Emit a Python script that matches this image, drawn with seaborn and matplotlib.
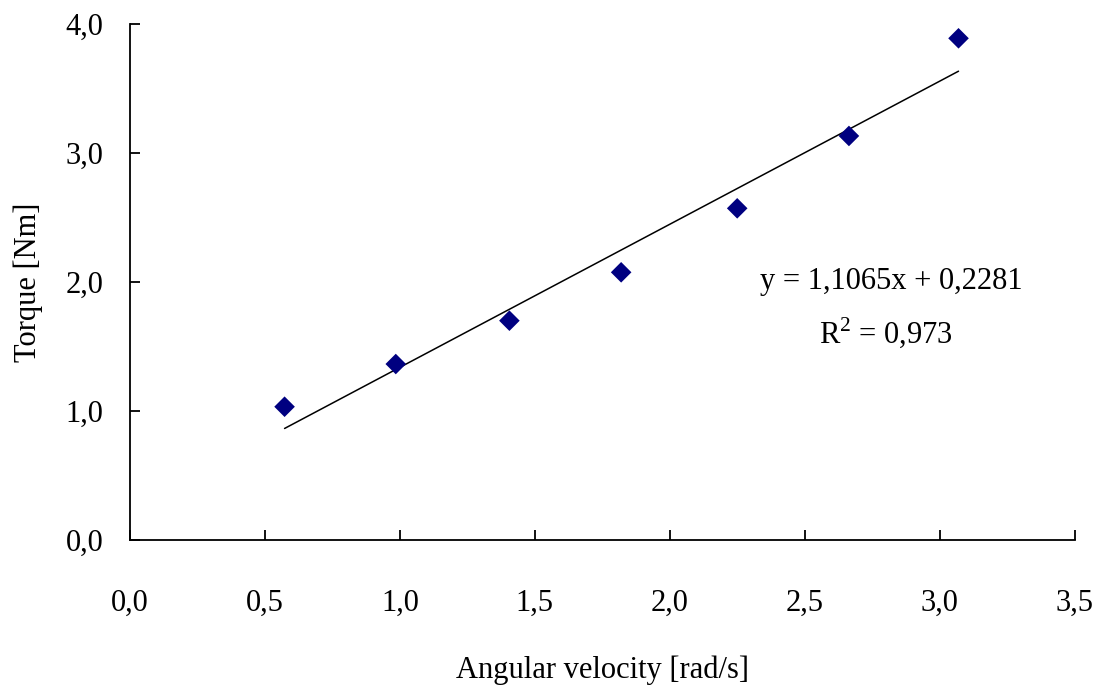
import matplotlib
matplotlib.use("Agg")
import matplotlib.pyplot as plt
import seaborn as sns
import pandas as pd

angular_velocity = [0.573, 0.985, 1.406, 1.820, 2.250, 2.664, 3.070]
torque = [1.033, 1.364, 1.700, 2.075, 2.571, 3.132, 3.889]
x_ticks = [0.0, 0.5, 1.0, 1.5, 2.0, 2.5, 3.0, 3.5]
y_ticks = [0.0, 1.0, 2.0, 3.0, 4.0]
equation_text = "y = 1,1065x + 0,2281"
r2_text = "R$^2$ = 0,973"

sns.set_style("ticks")
plt.rcParams['font.family'] = ['Liberation Serif', 'DejaVu Serif']
plt.rcParams['mathtext.fontset'] = 'custom'
plt.rcParams['mathtext.rm'] = 'Liberation Serif'
plt.rcParams['text.color'] = 'black'
plt.rcParams['axes.labelcolor'] = 'black'
plt.rcParams['xtick.color'] = 'black'
plt.rcParams['ytick.color'] = 'black'

df = pd.DataFrame({"w": angular_velocity, "T": torque})

fig = plt.figure(figsize=(11.01, 6.93), dpi=100)
ax = fig.add_axes([0.118, 0.2208, 0.858, 0.7446])

sns.regplot(data=df, x="w", y="T", ax=ax, ci=None, truncate=True,
            marker="D",
            scatter_kws=dict(color="#000080", s=110, edgecolor="none", alpha=1, zorder=3),
            line_kws=dict(color="black", lw=1.1, zorder=2))

FS = 22
ax.set_xlim(0, 3.5)
ax.set_ylim(0, 4.0)
ax.set_xticks(x_ticks)
ax.set_yticks(y_ticks)
ax.set_xticklabels([f"{v:.1f}".replace(".", ",") for v in x_ticks])
ax.set_yticklabels([f"{v:.1f}".replace(".", ",") for v in y_ticks])
ax.tick_params(direction="in", length=7, width=1.3, labelsize=FS,
               color="black", labelcolor="black")
ax.tick_params(axis="x", pad=35)
ax.tick_params(axis="y", pad=19)
sns.despine(ax=ax)
for s in ["left", "bottom"]:
    ax.spines[s].set_linewidth(1.3)
    ax.spines[s].set_color("black")

ax.set_xlabel("Angular velocity [rad/s]", fontsize=FS, color="black")
ax.set_ylabel("Torque [Nm]", fontsize=FS, color="black")
ax.xaxis.set_label_coords(0.5, -0.252)
ax.yaxis.set_label_coords(-0.108, 0.5)
ax.xaxis.label.set_va("center")
ax.yaxis.label.set_va("center")

ax.text(2.82, 2.0, equation_text, fontsize=FS, ha="center", va="center", color="black")
ax.text(2.80, 1.61, r2_text, fontsize=FS, ha="center", va="center", color="black")

fig.savefig("out.png", dpi=100)
